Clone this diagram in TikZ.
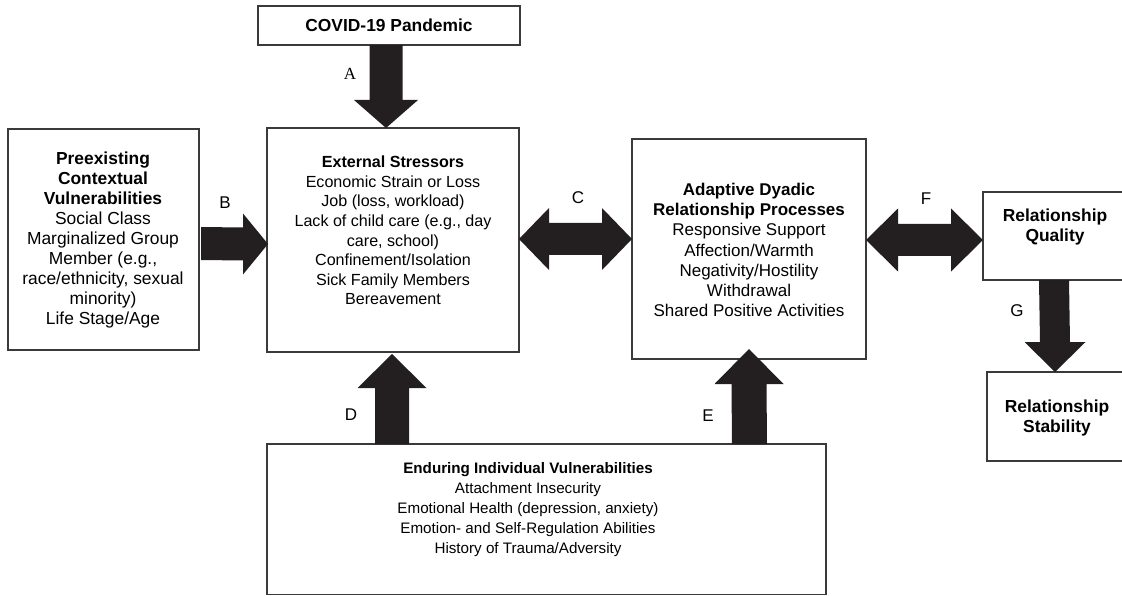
\documentclass[tikz,border=0pt]{standalone}
\usepackage{fontspec}
\setmainfont{Liberation Sans}
\newfontfamily\serifA{Liberation Serif}
\usetikzlibrary{calc}
\definecolor{arrowfill}{HTML}{231F20}
\definecolor{boxline}{HTML}{3A3A3A}
% vertical block arrow: tail, tip, shaft half width, head half width, signed offset tip->head base
\newcommand{\arrowV}[5]{\fill[blockarrow] ($(#1)+(-#3,0)$) -- ($(#2)+(-#3,#5)$) -- ($(#2)+(-#4,#5)$) -- (#2) -- ($(#2)+(#4,#5)$) -- ($(#2)+(#3,#5)$) -- ($(#1)+(#3,0)$) -- cycle;}
% horizontal block arrow
\newcommand{\arrowH}[5]{\fill[blockarrow] ($(#1)+(0,-#3)$) -- ($(#2)+(#5,-#3)$) -- ($(#2)+(#5,-#4)$) -- (#2) -- ($(#2)+(#5,#4)$) -- ($(#2)+(#5,#3)$) -- ($(#1)+(0,#3)$) -- cycle;}
% double horizontal block arrow: left tip, right tip, shaft hw, head hw, head length
\newcommand{\arrowD}[5]{\fill[blockarrow] (#1) -- ($(#1)+(#5,-#4)$) -- ($(#1)+(#5,-#3)$) -- ($(#2)+(-#5,-#3)$) -- ($(#2)+(-#5,-#4)$) -- (#2) -- ($(#2)+(-#5,#4)$) -- ($(#2)+(-#5,#3)$) -- ($(#1)+(#5,#3)$) -- ($(#1)+(#5,#4)$) -- cycle;}
\tikzset{
  box/.style={draw=boxline, line width=1.3pt, inner sep=0pt, outer sep=0pt, anchor=north west},
  txt/.style={align=center, inner sep=0pt},
  blockarrow/.style={fill=arrowfill},
  lab/.style={inner sep=0pt, font=\fontsize{17}{17}\selectfont},
}
\begin{document}
\begin{tikzpicture}[x=1pt,y=-1pt]
\useasboundingbox (0,0) rectangle (1122,596);
\clip (0,0) rectangle (1122,596);
% boxes
\node[box, minimum width=262pt, minimum height=39pt] (covid) at (258,6) {};
\node[box, minimum width=191pt, minimum height=221pt] (pre) at (8,129) {};
\node[box, minimum width=252pt, minimum height=224pt] (ext) at (267,128) {};
\node[box, minimum width=234pt, minimum height=220pt] (adap) at (632,139) {};
\node[box, minimum width=150pt, minimum height=88pt] (qual) at (983,192) {};
\node[box, minimum width=146pt, minimum height=89pt] (stab) at (987,372) {};
\node[box, minimum width=559pt, minimum height=150.5pt] (endur) at (267,444) {};
% texts
\node[txt, font=\fontsize{17.4}{20}\selectfont] (covidT) at (389,25) {\textbf{COVID-19 Pandemic}};
\node[txt, font=\fontsize{17.4}{20}\selectfont] (preT) at (103,240) {\textbf{Preexisting}\\\textbf{Contextual}\\\textbf{Vulnerabilities}\\Social Class\\Marginalized Group\\Member (e.g.,\\race/ethnicity, sexual\\minority)\\Life Stage/Age};
\node[txt, font=\fontsize{16.1}{19.6}\selectfont] (extT) at (393,230.5) {\textbf{External Stressors}\\Economic Strain or Loss\\Job (loss, workload)\\Lack of child care (e.g., day\\care, school)\\Confinement/Isolation\\Sick Family Members\\Bereavement};
\node[txt, font=\fontsize{17}{20.3}\selectfont] (adapT) at (749,250) {\textbf{Adaptive Dyadic}\\\textbf{Relationship Processes}\\Responsive Support\\Affection/Warmth\\Negativity/Hostility\\Withdrawal\\Shared Positive Activities};
\node[txt, font=\fontsize{17.4}{20}\selectfont] (qualT) at (1055,227) {\textbf{Relationship}\\\textbf{Quality}};
\node[txt, font=\fontsize{17.4}{20}\selectfont] (stabT) at (1057,418) {\textbf{Relationship}\\\textbf{Stability}};
\node[txt, font=\fontsize{15.2}{20.2}\selectfont] (endurT) at (528,509.5) {\textbf{Enduring Individual Vulnerabilities}\\Attachment Insecurity\\Emotional Health (depression, anxiety)\\Emotion- and Self-Regulation Abilities\\History of Trauma/Adversity};
% arrow end points
\coordinate (Atail) at ($(covid.south)+(-3,0)$);
\coordinate (Atip) at ($(ext.north)+(-7,0)$);
\coordinate (Btail) at ($(pre.east)+(2,4)$);
\coordinate (Btip) at ($(ext.west)+(1,4)$);
\coordinate (CL) at ($(ext.east)+(0,-1)$);
\coordinate (CR) at ($(adap.west)+(0,-10)$);
\coordinate (FL) at ($(adap.east)+(0,-9)$);
\coordinate (FR) at ($(qual.west)+(0,4)$);
\coordinate (Gtail) at ($(qual.south)+(-4,0)$);
\coordinate (Gtip) at ($(stab.north)+(-5,0)$);
\coordinate (Dtail) at ($(endur.north)+(-154.5,0)$);
\coordinate (Dtip) at ($(ext.south)+(-1,2)$);
\coordinate (Etail) at ($(endur.north)+(203,0)$);
\coordinate (Etip) at ($(adap.south)+(0,-10)$);
% block arrows
\arrowV{Atail}{Atip}{16.5}{32}{-28}
\arrowH{Btail}{Btip}{16.5}{30.5}{-25}
\arrowD{CL}{CR}{16}{31}{30}
\arrowD{FL}{FR}{16}{31.5}{32}
\arrowV{Gtail}{Gtip}{15}{30.5}{-30}
\arrowV{Dtail}{Dtip}{17}{34.5}{34}
\arrowV{Etail}{Etip}{17.5}{34.5}{35}
% labels
\node[lab, font=\serifA\fontsize{17}{17}\selectfont] (labA) at (350,74) {A};
\node[lab] (labB) at (225,203) {B};
\node[lab] (labC) at (578,198) {C};
\node[lab] (labF) at (926,199) {F};
\node[lab] (labG) at (1017,311) {G};
\node[lab] (labD) at (351,415) {D};
\node[lab] (labE) at (708,416) {E};
\end{tikzpicture}
\end{document}
